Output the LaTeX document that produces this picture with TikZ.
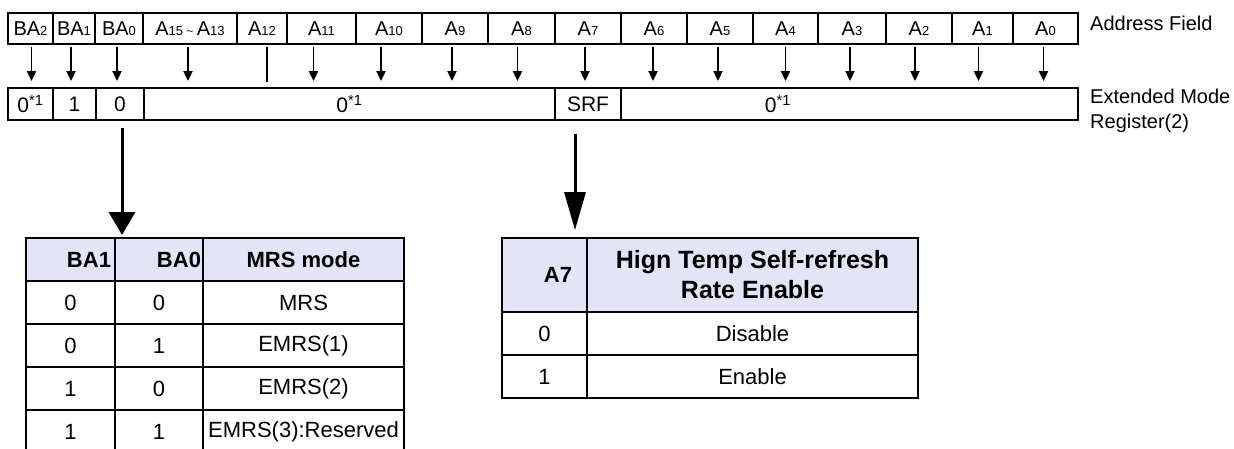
\documentclass[tikz,border=0pt]{standalone}
\usepackage{fontspec}
\setmainfont{Liberation Sans}
\usetikzlibrary{arrows.meta,positioning}
\definecolor{headfill}{RGB}{228,228,248}
\tikzset{addrcell/.style={draw,line width=1.8pt,minimum height=31pt,inner sep=0,font=\fontsize{20}{20}\selectfont},
    regcell/.style={draw,line width=1.8pt,minimum height=32pt,inner sep=0,font=\fontsize{21}{21}\selectfont},
    tabcell/.style={draw,line width=1.8pt,minimum height=43pt,inner sep=0,font=\fontsize{22}{22}\selectfont},
    headcell/.style={tabcell,fill=headfill,font=\fontsize{22}{29}\selectfont\bfseries},
    smallarrow/.style={line width=1.8pt,shorten <=2pt,shorten >=6pt,-{Triangle[length=10pt,width=9pt]}},
    sidelabel/.style={anchor=west,inner sep=0,align=left,font=\fontsize{20}{25}\selectfont}
}
\newcommand{\lowsub}[1]{{\fontsize{13}{13}\selectfont #1}}
\newcommand{\zerostar}{0\textsuperscript{*1}}
\begin{document}
\begin{tikzpicture}[x=1pt,y=-1pt]
\useasboundingbox (0,0) rectangle (1234,448);

% extended mode register
\foreach \l/\r/\txt [count=\i] in {8/53/\zerostar,53/96/1,96/144/0,144/555/\zerostar,555/621/SRF,621/1078/}
  \node (reg \i) [regcell,minimum width={(\r-\l)*1pt}] at ({(\l+\r)/2},104) {\txt};
\node (reg text) [font=\fontsize{21}{21}\selectfont,inner sep=0] at (778,104) {\zerostar};

% address field
\foreach \l/\r/\txt [count=\i] in {8/53/BA\lowsub{2},53/95/BA\lowsub{1},95/143/BA\lowsub{0},
    143/237/A\lowsub{15}\,{\fontsize{12}{12}\selectfont\textasciitilde}\,A\lowsub{13},
    237/287/A\lowsub{12},287/356/A\lowsub{11},356/422/A\lowsub{10},422/488/A\lowsub{9},
    488/555/A\lowsub{8},555/621/A\lowsub{7},621/687/A\lowsub{6},687/753/A\lowsub{5},
    753/818/A\lowsub{4},818/886/A\lowsub{3},886/952/A\lowsub{2},952/1013/A\lowsub{1},1013/1078/A\lowsub{0}}
  \node (addr \i) [addrcell,minimum width={(\r-\l)*1pt}] at ({(\l+\r)/2},28.5) {\txt};

\foreach \i/\dx in {1/1,2/-3,3/-2,4/-2,6/-8,7/-8,8/-3,9/-4,10/-3,11/-1,12/-2,13/0,14/-2,15/-4,16/-4,17/-2}
  \draw [smallarrow] ([xshift=\dx pt]addr \i.south) -- ([xshift=\dx pt]addr \i.south |- reg 1.north);
\draw [line width=1.8pt,shorten <=2pt,shorten >=5pt] ([xshift=5pt]addr 5.south) -- ([xshift=5pt]addr 5.south |- reg 1.north);

\node (field label) [sidelabel] at (1090,23) {Address Field};
\node (reg label) [sidelabel] at (1090,111) {Extended Mode\\Register(2)};

% MRS mode table
\node (mrs head 1) [headcell,minimum width=89pt,text width=81pt,align=right] at (70.5,259.5) {BA1};
\node (mrs head 2) [headcell,minimum width=88pt,text width=84pt,align=right] at (159,259.5) {BA0};
\node (mrs head 3) [headcell,minimum width=201pt] at (303.5,259.5) {MRS mode};
\foreach \bone/\bzero/\mode [count=\j] in {0/0/MRS,0/1/EMRS(1),1/0/EMRS(2),1/1/EMRS(3):Reserved} {
  \node (mrs \j a) [tabcell,minimum width=89pt] at (70.5,{259.5+43*\j}) {\bone};
  \node (mrs \j b) [tabcell,minimum width=88pt] at (159,{259.5+43*\j}) {\bzero};
  \node (mrs \j c) [tabcell,minimum width=201pt] at (303.5,{259.5+43*\j}) {\mode};
}

% self-refresh table
\node (srf head 1) [headcell,minimum width=85pt,minimum height=74pt,text width=55pt,align=right] at (544.5,275) {A7};
\node (srf head 2) [headcell,minimum width=331pt,minimum height=74pt,align=center,font=\fontsize{25}{30}\selectfont\bfseries] at (752.5,275) {Hign Temp Self-refresh\\Rate Enable};
\foreach \bit/\state [count=\j] in {0/Disable,1/Enable} {
  \node (srf \j a) [tabcell,minimum width=85pt] at (544.5,{290.5+43*\j}) {\bit};
  \node (srf \j b) [tabcell,minimum width=331pt] at (752.5,{290.5+43*\j}) {\state};
}

\draw [line width=3pt,shorten <=7pt,shorten >=2pt,-{Triangle[length=23pt,width=26pt]}] ([xshift=2pt]reg 3.south) -- ([xshift=2pt]reg 3.south |- mrs head 1.north);
\draw [line width=3pt,shorten <=13pt,shorten >=7pt,-{Triangle[length=38pt,width=21pt]}] ([xshift=-13pt]reg 5.south) -- ([xshift=-13pt]reg 5.south |- srf head 1.north);

\end{tikzpicture}
\end{document}
